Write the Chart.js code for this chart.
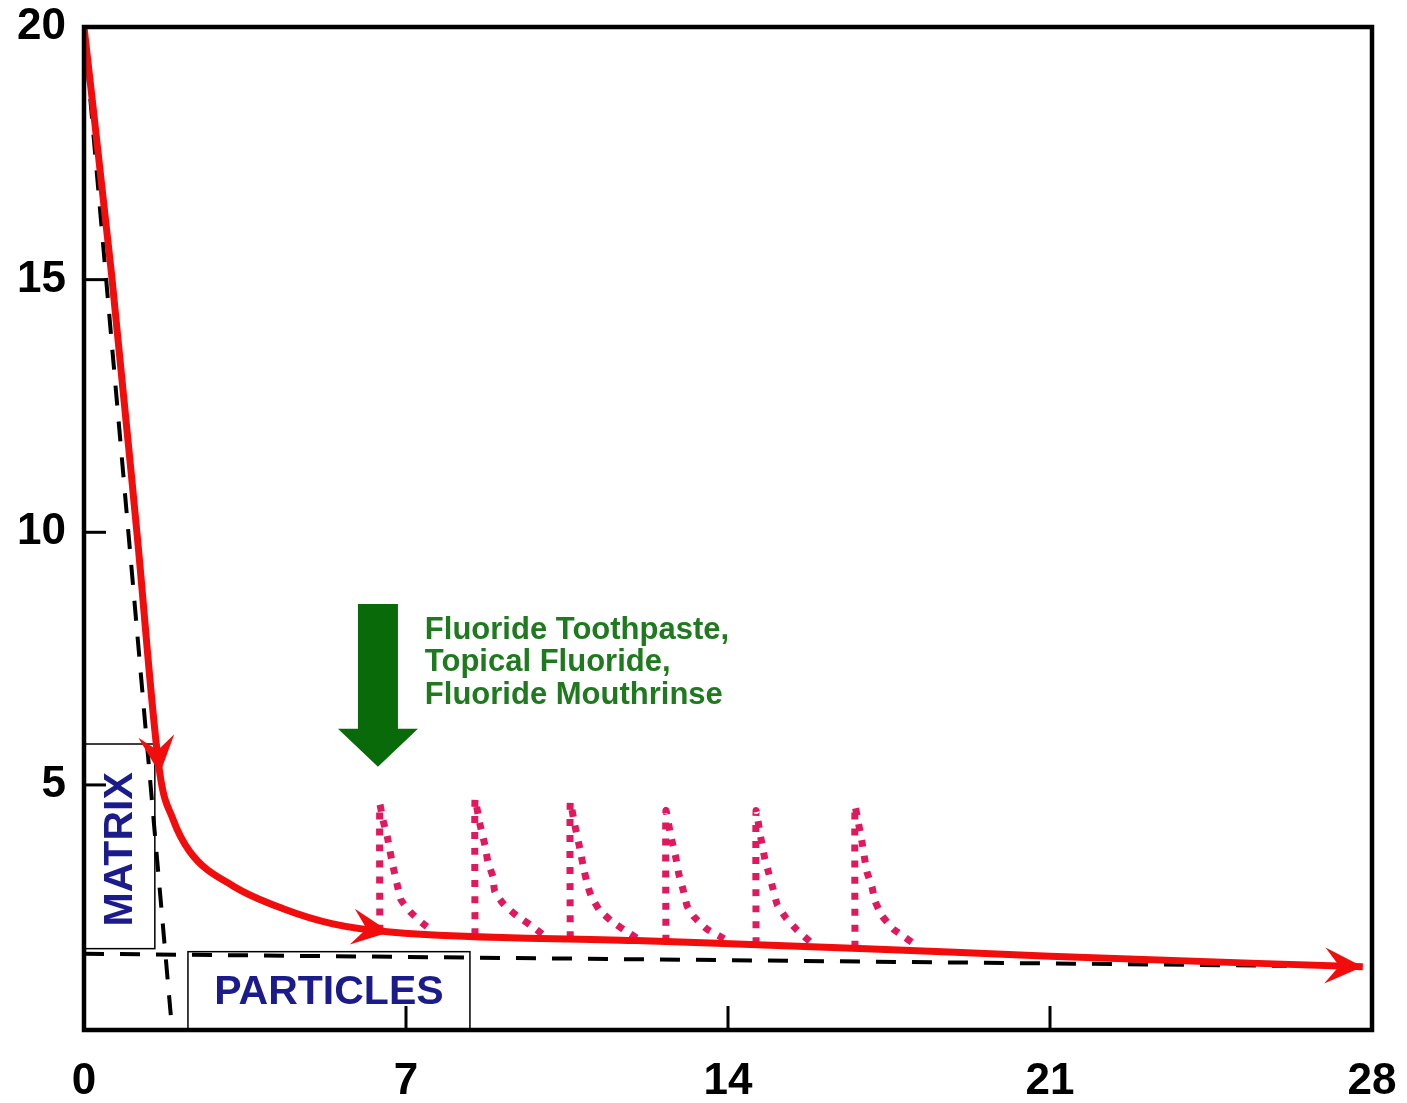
<!DOCTYPE html>
<html>
<head>
<meta charset="utf-8">
<script src="https://cdn.jsdelivr.net/npm/chart.js@4"></script>
<style>
  body { margin: 0; background: #fff; }
  canvas { display: block; }
</style>
</head>
<body>
<canvas id="chart" width="1407" height="1103"></canvas>
<script>
// main fluoride curve
const redX = [0, 0.6, 1.15, 1.65, 1.93, 2.3, 3.24, 4.33, 5.41, 6.65, 12, 17, 21, 27.8];
const redY = [20, 15.1, 10.0, 5.22, 4.33, 3.68, 3.0, 2.55, 2.25, 2.09, 1.92, 1.76, 1.61, 1.4];
const arrowAt = [3, 9, 13];

// dashed guide lines
const matrixX = [0, 1.91];
const matrixY = [20, 0.2];
const particleX = [0, 26.15];
const particleY = [1.66, 1.42];

// topical fluoride spikes
const spike1X = [6.43, 6.43, 6.5, 6.59, 6.65, 6.72, 6.8, 6.89, 7.09, 7.35, 7.57];
const spike1Y = [2.1, 4.62, 4.3, 3.99, 3.7, 3.38, 3.06, 2.73, 2.49, 2.27, 2.11];
const spike2X = [8.5, 8.5, 8.6, 8.72, 8.78, 8.89, 8.93, 9.13, 9.41, 9.7, 9.96];
const spike2Y = [2.03, 4.72, 4.25, 3.79, 3.48, 3.18, 2.89, 2.63, 2.41, 2.23, 2.05];
const spike3X = [10.57, 10.57, 10.67, 10.78, 10.85, 10.93, 11.02, 11.2, 11.46, 11.74, 12.02];
const spike3Y = [1.97, 4.66, 4.2, 3.74, 3.4, 3.08, 2.81, 2.53, 2.31, 2.13, 1.97];
const spike4X = [12.65, 12.65, 12.75, 12.87, 12.93, 13.02, 13.11, 13.26, 13.54, 13.83, 14.09];
const spike4Y = [1.9, 4.49, 4.02, 3.54, 3.24, 2.94, 2.61, 2.39, 2.15, 2.0, 1.86];
const spike5X = [14.61, 14.61, 14.7, 14.8, 14.89, 14.98, 15.07, 15.26, 15.5, 15.78];
const spike5Y = [1.85, 4.49, 4.02, 3.54, 3.24, 2.94, 2.63, 2.37, 2.13, 1.9];
const spike6X = [16.76, 16.76, 16.83, 16.91, 16.96, 17.02, 17.13, 17.2, 17.35, 17.59, 17.85, 18.13];
const spike6Y = [1.78, 4.58, 4.27, 3.89, 3.6, 3.28, 2.98, 2.69, 2.41, 2.15, 1.98, 1.8];

const xTicks = [0, 7, 14, 21, 28];
const yTicks = [5, 10, 15, 20];

const treatmentLines = ["Fluoride Toothpaste,", "Topical Fluoride,", "Fluoride Mouthrinse"];

const pts = (xs, ys) => xs.map((x, i) => ({ x: x, y: ys[i] }));

const spikes = [
  [spike1X, spike1Y], [spike2X, spike2Y], [spike3X, spike3Y],
  [spike4X, spike4Y], [spike5X, spike5Y], [spike6X, spike6Y],
].map(([xs, ys]) => ({
  data: pts(xs, ys),
  borderColor: "#e2185e",
  borderWidth: 7,
  borderDash: [7, 9],
  borderCapStyle: "butt",
  tension: 0.15,
  pointRadius: 0,
}));

// arrowhead, notched
function arrowHead(ctx, x, y, ang, len, half, color) {
  ctx.save();
  ctx.translate(x, y);
  ctx.rotate(ang);
  ctx.fillStyle = color;
  ctx.beginPath();
  ctx.moveTo(0, 0);
  ctx.lineTo(-len, -half);
  ctx.lineTo(-len * 0.62, 0);
  ctx.lineTo(-len, half);
  ctx.closePath();
  ctx.fill();
  ctx.restore();
}

const extras = {
  id: "extras",
  beforeDatasetsDraw(chart) {
    const { ctx, scales: { x, y } } = chart;
    ctx.save();
    ctx.strokeStyle = "#000";
    ctx.lineWidth = 1.5;
    // MATRIX box
    const mx0 = x.getPixelForValue(0), mx1 = x.getPixelForValue(1.54);
    const my0 = y.getPixelForValue(5.81), my1 = y.getPixelForValue(1.76);
    ctx.fillStyle = "#fff";
    ctx.fillRect(mx0, my0, mx1 - mx0, my1 - my0);
    ctx.strokeRect(mx0, my0, mx1 - mx0, my1 - my0);
    // PARTICLES box
    const px0 = x.getPixelForValue(2.26), px1 = x.getPixelForValue(8.39);
    const py0 = y.getPixelForValue(1.7), py1 = chart.chartArea.bottom;
    ctx.fillRect(px0, py0, px1 - px0, py1 - py0);
    ctx.strokeRect(px0, py0, px1 - px0, py1 - py0);

    ctx.fillStyle = "#1b1b8c";
    ctx.font = "bold 41px 'Liberation Sans', Arial, sans-serif";
    ctx.textAlign = "center";
    ctx.textBaseline = "middle";
    ctx.fillText("PARTICLES", (px0 + px1) / 2, (py0 + py1) / 2 + 2);
    ctx.save();
    ctx.translate((mx0 + mx1) / 2 + 1, (my0 + my1) / 2 + 3);
    ctx.rotate(-Math.PI / 2);
    ctx.fillText("MATRIX", 0, 0);
    ctx.restore();
    ctx.restore();
  },
  afterDatasetsDraw(chart) {
    const { ctx, scales: { x, y } } = chart;
    // red arrowheads along the curve
    arrowAt.forEach((i) => {
      const ax = x.getPixelForValue(redX[i]), ay = y.getPixelForValue(redY[i]);
      const bx = x.getPixelForValue(redX[i - 1]), by = y.getPixelForValue(redY[i - 1]);
      arrowHead(ctx, ax, ay, Math.atan2(ay - by, ax - bx), 38, 18, "#f20d0d");
    });

    // green arrow
    const gx = x.getPixelForValue(6.39);
    const gTop = y.getPixelForValue(8.58);
    const gTip = y.getPixelForValue(5.36);
    ctx.save();
    ctx.fillStyle = "#086a08";
    ctx.beginPath();
    ctx.moveTo(gx - 20, gTop);
    ctx.lineTo(gx + 20, gTop);
    ctx.lineTo(gx + 20, gTip - 38);
    ctx.lineTo(gx + 40, gTip - 38);
    ctx.lineTo(gx, gTip);
    ctx.lineTo(gx - 40, gTip - 38);
    ctx.lineTo(gx - 20, gTip - 38);
    ctx.closePath();
    ctx.fill();

    ctx.fillStyle = "#1f7a1f";
    ctx.font = "bold 31px 'Liberation Sans', Arial, sans-serif";
    ctx.textAlign = "left";
    ctx.textBaseline = "alphabetic";
    const tx = x.getPixelForValue(7.41);
    const ty = y.getPixelForValue(7.89);
    treatmentLines.forEach((t, i) => ctx.fillText(t, tx, ty + i * 32.5));
    ctx.restore();
  },
  afterDraw(chart) {
    const { ctx, chartArea: a, scales: { x, y } } = chart;
    ctx.save();
    ctx.strokeStyle = "#000";
    ctx.lineWidth = 3;
    // inward ticks
    xTicks.forEach((v) => {
      const p = x.getPixelForValue(v);
      ctx.beginPath();
      ctx.moveTo(p, a.bottom);
      ctx.lineTo(p, a.bottom - 24);
      ctx.stroke();
    });
    yTicks.forEach((v) => {
      const p = y.getPixelForValue(v);
      ctx.beginPath();
      ctx.moveTo(a.left, p);
      ctx.lineTo(a.left + 22, p);
      ctx.stroke();
    });
    ctx.lineWidth = 4.5;
    ctx.strokeRect(a.left, a.top, a.right - a.left, a.bottom - a.top);
    ctx.restore();
  },
};

const tickFont = { family: "'Liberation Sans', Arial, sans-serif", size: 44, weight: "bold" };

new Chart(document.getElementById("chart"), {
  type: "line",
  data: {
    datasets: [
      {
        data: pts(redX, redY),
        borderColor: "#f20d0d",
        borderWidth: 7,
        cubicInterpolationMode: "monotone",
        pointRadius: 0,
      },
      ...spikes,
      {
        data: pts(matrixX, matrixY),
        borderColor: "#000",
        borderWidth: 4,
        borderDash: [20, 16],
        pointRadius: 0,
      },
      {
        data: pts(particleX, particleY),
        borderColor: "#000",
        borderWidth: 4,
        borderDash: [20, 16],
        pointRadius: 0,
      },
    ],
  },
  options: {
    responsive: false,
    animation: false,
    devicePixelRatio: 1,
    layout: { padding: { left: 0, right: 35, top: 27, bottom: 0 } },
    plugins: { legend: { display: false }, tooltip: { enabled: false } },
    scales: {
      x: {
        type: "linear",
        min: 0,
        max: 28,
        grid: { display: false, drawTicks: false },
        border: { display: false },
        afterBuildTicks: (s) => { s.ticks = xTicks.map((v) => ({ value: v })); },
        afterFit: (s) => { s.height = 73; s.paddingLeft = 0; s.paddingRight = 0; },
        ticks: { font: tickFont, color: "#000", padding: 25, maxRotation: 0 },
      },
      y: {
        type: "linear",
        min: 0.15,
        max: 20,
        grid: { display: false, drawTicks: false },
        border: { display: false },
        afterBuildTicks: (s) => { s.ticks = yTicks.map((v) => ({ value: v })); },
        afterFit: (s) => { s.width = 84; s.paddingTop = 0; s.paddingBottom = 0; },
        ticks: { font: tickFont, color: "#000", padding: 18 },
      },
    },
  },
  plugins: [extras],
});
</script>
</body>
</html>
